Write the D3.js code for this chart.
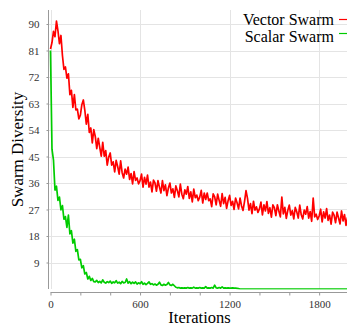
<!DOCTYPE html>
<html>
<head>
<meta charset="utf-8">
<script src="https://cdn.jsdelivr.net/npm/d3@7"></script>
<style>
  body { margin: 0; background: #fff; }
  text { font-family: "Liberation Serif", "DejaVu Serif", serif; }
</style>
</head>
<body>
<svg id="chart"></svg>
<script>
// iterations are sampled every 10 steps, 0 .. 1990
var step = 10;

var vectorSwarm = [
  81.5, 83.7, 87.5, 85.7, 91.0, 87.7, 83.3, 86.1, 79.3, 74.6,
  75.4, 71.6, 73.1, 66.0, 67.5, 61.7, 66.0, 60.8, 61.1, 57.8,
  59.0, 62.6, 64.2, 60.7, 56.0, 59.3, 53.2, 54.7, 49.6, 54.1,
  51.8, 47.7, 51.2, 48.1, 45.1, 49.8, 45.1, 47.0, 42.1, 44.8,
  46.2, 42.1, 43.2, 39.8, 43.7, 41.6, 39.0, 43.5, 39.5, 37.7,
  40.7, 39.0, 41.4, 37.2, 39.2, 35.7, 39.9, 36.9, 37.7, 35.7,
  36.8, 39.0, 34.6, 37.9, 35.6, 38.7, 34.6, 36.3, 33.0, 37.0,
  36.0, 33.2, 36.8, 34.6, 32.6, 36.8, 33.4, 35.4, 31.7, 34.3,
  36.0, 32.6, 34.0, 31.1, 35.0, 33.4, 31.3, 35.6, 32.2, 30.7,
  33.7, 32.2, 34.8, 30.8, 33.0, 29.6, 33.9, 31.0, 31.9, 30.0,
  31.2, 33.5, 29.2, 32.6, 30.4, 32.6, 30.0, 30.6, 28.0, 32.3,
  31.3, 28.6, 32.2, 30.1, 28.1, 32.4, 29.0, 31.1, 27.4, 30.0,
  31.8, 28.4, 29.8, 27.0, 30.9, 29.3, 27.2, 30.9, 28.2, 26.7,
  29.7, 33.4, 30.8, 26.8, 29.0, 25.6, 29.8, 26.8, 27.9, 26.0,
  27.2, 29.5, 25.2, 28.6, 26.5, 29.7, 25.7, 27.6, 24.4, 28.6,
  27.6, 24.9, 28.6, 26.5, 24.5, 31.2, 25.5, 27.7, 24.0, 26.7,
  28.5, 25.1, 26.6, 23.8, 27.7, 26.2, 24.1, 28.5, 25.2, 23.8,
  26.8, 25.4, 28.0, 24.1, 26.3, 23.0, 30.9, 24.5, 25.4, 23.6,
  24.8, 27.1, 22.8, 26.2, 24.1, 27.3, 23.3, 25.1, 22.0, 26.1,
  25.1, 22.5, 26.1, 24.1, 22.1, 26.5, 23.1, 25.3, 21.6, 24.3
];

var scalarSwarm = [
  81.0, 47.5, 43.8, 33.6, 34.9, 30.1, 31.2, 26.9, 28.3, 23.7,
  24.6, 20.9, 25.1, 18.7, 19.8, 15.6, 16.9, 12.8, 13.4, 9.9,
  10.1, 7.2, 7.9, 5.1, 5.6, 3.4, 4.3, 2.9, 3.6, 2.5,
  2.4, 2.9, 2.2, 2.6, 2.1, 3.1, 2.3, 2.0, 2.5, 2.2,
  2.7, 1.9, 2.4, 2.1, 2.8, 2.0, 2.3, 1.8, 2.6, 2.1,
  2.2, 3.4, 2.0, 2.5, 1.8, 2.3, 1.9, 2.4, 1.7, 2.1,
  1.8, 2.5, 1.6, 2.0, 1.5, 1.9, 2.4, 1.6, 1.8, 1.4,
  1.7, 1.3, 1.6, 2.3, 1.4, 1.2, 1.6, 1.3, 1.5, 2.2,
  1.4, 1.2, 1.6, 1.1, 0.6, 0.4, 0.5, 0.3, 0.4, 0.3,
  0.4, 0.3, 0.5, 0.3, 0.4, 0.3, 0.6, 0.3, 0.4, 0.3,
  0.5, 0.3, 0.4, 0.3, 0.8, 0.3, 0.4, 0.3, 0.5, 0.3,
  1.3, 0.4, 0.3, 0.5, 0.3, 0.7, 0.3, 0.4, 0.3, 0.4,
  0.3, 0.3, 0.4, 0.3, 0.3, 0.2, 0.1, 0, 0, 0,
  0, 0, 0, 0, 0, 0, 0, 0, 0, 0,
  0, 0, 0, 0, 0, 0, 0, 0, 0, 0,
  0, 0, 0, 0, 0, 0, 0, 0, 0, 0,
  0, 0, 0, 0, 0, 0, 0, 0, 0, 0,
  0, 0, 0, 0, 0, 0, 0, 0, 0, 0,
  0, 0, 0, 0, 0, 0, 0, 0, 0, 0,
  0, 0, 0, 0, 0, 0, 0, 0, 0, 0
];

var yTicks = [9, 18, 27, 36, 45, 54, 63, 72, 81, 90];
var xTicks = [0, 200, 400, 600, 800, 1000, 1200, 1400, 1600, 1800];
var xLabels = [0, 600, 1200, 1800];
var seriesNames = ["Vector Swarm", "Scalar Swarm"];
var seriesColors = ["#ff0000", "#00cc00"];

var width = 347, height = 324;
var plotLeft = 48, plotRight = 347, plotTop = 10, plotBottom = 289;

var svg = d3.select("#chart")
  .attr("width", width)
  .attr("height", height);

var x = d3.scaleLinear().domain([0, 2000]).range([50.5, 349]);
var y = d3.scaleLinear().domain([0, 90]).range([289, 24]);

// gridlines
svg.append("g")
  .selectAll("line")
  .data(yTicks)
  .enter()
  .append("line")
  .attr("x1", plotLeft).attr("x2", plotRight)
  .attr("y1", function(d) { return Math.round(y(d)) + 0.5; })
  .attr("y2", function(d) { return Math.round(y(d)) + 0.5; })
  .style("stroke", "#e4e4e4");

svg.append("g")
  .selectAll("line")
  .data(xLabels)
  .enter()
  .append("line")
  .attr("x1", function(d) { return Math.round(x(d)) + 0.5; })
  .attr("x2", function(d) { return Math.round(x(d)) + 0.5; })
  .attr("y1", plotTop).attr("y2", plotBottom)
  .style("stroke", "#e4e4e4");

// series
svg.append("clipPath").attr("id", "plotClip")
  .append("rect")
  .attr("x", plotLeft).attr("y", plotTop)
  .attr("width", plotRight - plotLeft).attr("height", plotBottom - plotTop + 0.5);

var line = d3.line()
  .x(function(d, i) { return x(i * step); })
  .y(function(d) { return y(d); });

[vectorSwarm, scalarSwarm].forEach(function(s, k) {
  svg.append("path")
    .datum(s)
    .attr("clip-path", "url(#plotClip)")
    .attr("d", line)
    .style("fill", "none")
    .style("stroke", seriesColors[k])
    .style("stroke-width", 1.7)
    .style("stroke-linejoin", "round");
});

// y axis
var yAxis = d3.axisLeft(y).tickValues(yTicks).tickSize(2).tickPadding(7);
var gy = svg.append("g")
  .attr("transform", "translate(" + (plotLeft + 0.5) + ",0)")
  .call(yAxis);
gy.select(".domain").remove();
gy.append("line")
  .attr("x1", 0).attr("x2", 0)
  .attr("y1", plotTop).attr("y2", plotBottom)
  .style("stroke", "#999");
gy.selectAll(".tick line").style("stroke", "#999");
gy.selectAll(".tick text")
  .style("font-family", "Liberation Serif")
  .style("font-size", "11px")
  .style("fill", "#333");

// x axis
var xAxis = d3.axisBottom(x)
  .tickValues(xTicks)
  .tickSize(3)
  .tickPadding(5)
  .tickFormat(function(d) { return xLabels.indexOf(d) >= 0 ? d : ""; });
var gx = svg.append("g")
  .attr("transform", "translate(0," + 292.5 + ")")
  .call(xAxis);
gx.select(".domain").remove();
gx.append("line")
  .attr("x1", 50.5).attr("x2", width)
  .attr("y1", 0).attr("y2", 0)
  .style("stroke", "#999");
gx.selectAll(".tick line").style("stroke", "#999");
gx.selectAll(".tick text")
  .style("font-family", "Liberation Serif")
  .style("font-size", "11px")
  .style("fill", "#333");

// axis titles
svg.append("text")
  .attr("x", (plotLeft + plotRight) / 2 + 2)
  .attr("y", 323)
  .attr("text-anchor", "middle")
  .style("font-size", "16.5px")
  .style("fill", "#000")
  .text("Iterations");

svg.append("text")
  .attr("transform", "translate(23," + ((plotTop + plotBottom) / 2) + ") rotate(-90)")
  .attr("text-anchor", "middle")
  .style("font-size", "17px")
  .style("fill", "#000")
  .text("Swarm Diversity");

// legend
var legend = svg.append("g");
seriesNames.forEach(function(name, k) {
  legend.append("text")
    .attr("x", 334)
    .attr("y", 25 + k * 17)
    .attr("text-anchor", "end")
    .style("font-size", "16px")
    .style("fill", "#000")
    .text(name);
  legend.append("line")
    .attr("x1", 339).attr("x2", 347)
    .attr("y1", 19.5 + k * 14).attr("y2", 19.5 + k * 14)
    .style("stroke", seriesColors[k])
    .style("stroke-width", 1.2);
});
</script>
</body>
</html>
